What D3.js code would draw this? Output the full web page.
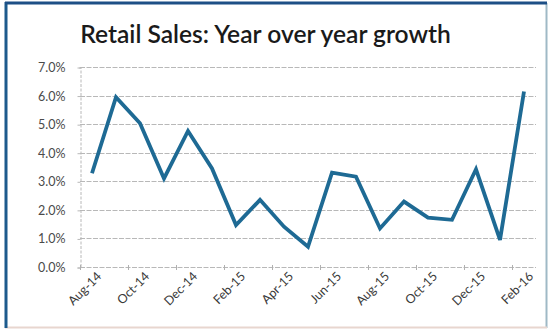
<!DOCTYPE html>
<html>
<head>
<meta charset="utf-8">
<script src="https://cdn.jsdelivr.net/npm/d3@7/dist/d3.min.js"></script>
<style>
  html, body { margin: 0; padding: 0; background: #fff; }
  svg { display: block; }
</style>
</head>
<body>
<svg id="chart" width="550" height="331"></svg>
<script>
// Monthly year-over-year growth of retail sales (percent)
const months = ["Aug-14","Sep-14","Oct-14","Nov-14","Dec-14","Jan-15","Feb-15","Mar-15","Apr-15","May-15",
                "Jun-15","Jul-15","Aug-15","Sep-15","Oct-15","Nov-15","Dec-15","Jan-16","Feb-16"];
const growth = [3.28, 5.94, 5.03, 3.10, 4.76, 3.45, 1.47, 2.35, 1.41, 0.71,
                3.30, 3.16, 1.35, 2.29, 1.73, 1.65, 3.42, 0.95, 6.14];
const yTicks = [0, 1, 2, 3, 4, 5, 6, 7];
const title = "Retail Sales: Year over year growth";

const svg = d3.select("#chart");
const W = 550, H = 331;
const plot = { left: 80, right: 536, top: 67, bottom: 267 };

// Frame around the chart
svg.append("rect").attr("x", 0).attr("y", 0).attr("width", W).attr("height", H).attr("fill", "#fff");
svg.append("line").attr("x1", 546.5).attr("x2", 546.5).attr("y1", 3).attr("y2", 328)
  .attr("stroke", "#9fb9c6").attr("stroke-width", 2);
svg.append("line").attr("x1", 5).attr("x2", 547).attr("y1", 327.5).attr("y2", 327.5)
  .attr("stroke", "#e8d6cf").attr("stroke-width", 2);
svg.append("line").attr("x1", 6).attr("x2", 6).attr("y1", 2).attr("y2", 328)
  .attr("stroke", "#1d5a8c").attr("stroke-width", 3);
svg.append("line").attr("x1", 5).attr("x2", 547).attr("y1", 3).attr("y2", 3)
  .attr("stroke", "#1d4f86").attr("stroke-width", 3);

// Scales
const x = d3.scaleBand().domain(months).range([plot.left, plot.right]);
const cx = d => x(d) + x.bandwidth() / 2;
const y = d3.scaleLinear().domain([0, 7]).range([plot.bottom, plot.top]);

// Horizontal gridlines
svg.append("g").selectAll("line").data(yTicks.filter(t => t > 0)).join("line")
  .attr("x1", plot.left).attr("x2", plot.right)
  .attr("y1", d => Math.round(y(d)) + 0.5).attr("y2", d => Math.round(y(d)) + 0.5)
  .attr("stroke", "#b8b8b8").attr("stroke-width", 1).attr("stroke-dasharray", "5,1.5");

// Y axis
const yAxis = d3.axisLeft(y).tickValues(yTicks).tickSize(3).tickPadding(12)
  .tickFormat(d => d3.format(".1f")(d) + "%");
const gy = svg.append("g").attr("transform", `translate(${plot.left + 0.5},0.5)`).call(yAxis);
gy.select(".domain").attr("stroke", "#b8b8b8").attr("stroke-dasharray", "3,1.5");
gy.selectAll(".tick line").attr("stroke", "#b8b8b8");
gy.selectAll("text").attr("font-family", "Lato, 'Open Sans', sans-serif")
  .attr("font-size", 12.5).attr("fill", "#4a4a4a");

// X axis baseline with a tick every two months
const gx = svg.append("g");
gx.append("line").attr("x1", plot.left).attr("x2", plot.right)
  .attr("y1", plot.bottom + 0.5).attr("y2", plot.bottom + 0.5)
  .attr("stroke", "#b8b8b8").attr("stroke-dasharray", "5,1.5");
const tickMonths = months.filter((m, i) => i % 2 === 0);
gx.selectAll("line.tk").data(tickMonths).join("line").attr("class", "tk")
  .attr("x1", d => Math.round(x(d)) + 0.5).attr("x2", d => Math.round(x(d)) + 0.5)
  .attr("y1", plot.bottom - 2).attr("y2", plot.bottom + 3)
  .attr("stroke", "#b0b0b0");
gx.selectAll("text").data(tickMonths).join("text")
  .attr("transform", d => `translate(${cx(d) + 4},${plot.bottom + 4}) rotate(-45)`)
  .attr("text-anchor", "end").attr("dy", "0.7em")
  .attr("font-family", "Lato, 'Open Sans', sans-serif")
  .attr("font-size", 12.5).attr("fill", "#3a3a3a")
  .text(d => d);

// Growth line
const line = d3.line().x((d, i) => cx(months[i])).y(d => y(d));
svg.append("path").datum(growth)
  .attr("d", line)
  .attr("fill", "none").attr("stroke", "#1e6a94").attr("stroke-width", 3.8)
  .attr("stroke-linejoin", "miter").attr("stroke-linecap", "butt");

// Title
svg.append("text").attr("x", 265.5).attr("y", 43)
  .attr("text-anchor", "middle")
  .attr("font-family", "Lato, 'Open Sans', sans-serif")
  .attr("font-weight", 600).attr("font-size", 24.6).attr("fill", "#1a1a1a")
  .text(title);
</script>
</body>
</html>
